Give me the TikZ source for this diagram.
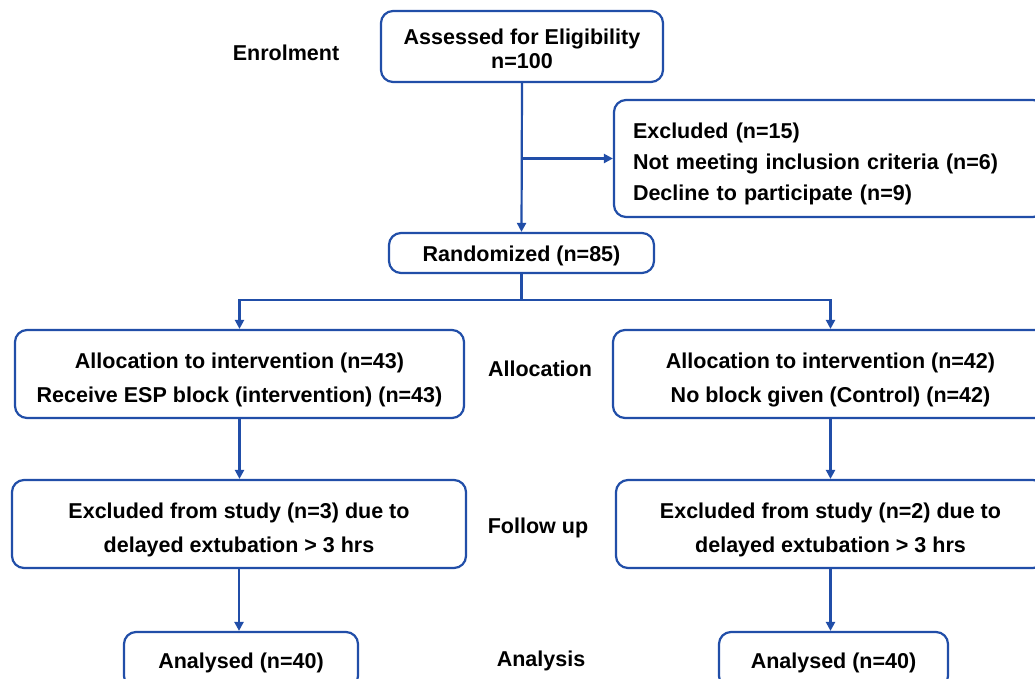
\documentclass[tikz,border=0pt]{standalone}
\usepackage{fontspec}
\setmainfont{Liberation Sans}
\usetikzlibrary{arrows.meta}
\definecolor{lineblue}{RGB}{33,78,168}
\newcommand{\upstrut}{\rule{0pt}{27pt}}
\newcommand{\lowstrut}{\rule{0pt}{21pt}}
\tikzset{
  box/.style={draw=lineblue, line width=2.2pt, rounded corners=12pt, inner sep=0pt,
    align=center, font=\bfseries\fontsize{21.5}{34}\selectfont},
  lbl/.style={inner sep=0pt, font=\bfseries\fontsize{21.5}{26}\selectfont},
  conn/.style={draw=lineblue, line width=2.2pt, -{Triangle[width=9pt,length=9pt]}},
  plain/.style={draw=lineblue, line width=2.2pt}
}
\begin{document}
\begin{tikzpicture}[x=1pt,y=-1pt]
\useasboundingbox (0,0) rectangle (1035,678);
\clip (0,0) rectangle (1035,678);
\fill[white] (0,0) rectangle (1035,678);

\node[box, minimum width=282pt, minimum height=71pt, font=\bfseries\fontsize{21.5}{24}\selectfont] (assess) at (522,46.5) {\lowstrut Assessed for Eligibility\\n=100};
\node[box, minimum width=431pt, minimum height=117pt, text width=393pt, inner xsep=19pt, align=left, font=\bfseries\fontsize{21.5}{31}\selectfont] (excl) at (829.5,158.5) {\upstrut Excluded (n=15)\\Not meeting inclusion criteria (n=6)\\Decline to participate (n=9)};
\node[box, minimum width=265pt, minimum height=40pt] (rand) at (521.5,253) {\lowstrut Randomized (n=85)};
\node[box, minimum width=449pt, minimum height=88pt] (alloc1) at (239.5,374) {\upstrut Allocation to intervention (n=43)\\Receive ESP block (intervention) (n=43)};
\node[box, minimum width=435pt, minimum height=88pt] (alloc2) at (830.5,374) {\upstrut Allocation to intervention (n=42)\\No block given (Control) (n=42)};
\node[box, minimum width=454pt, minimum height=88pt] (follow1) at (239,524) {\upstrut Excluded from study (n=3) due to\\delayed extubation > 3 hrs};
\node[box, minimum width=429pt, minimum height=88pt] (follow2) at (830.5,524) {\upstrut Excluded from study (n=2) due to\\delayed extubation > 3 hrs};
\node[box, minimum width=234pt, minimum height=56pt] (ana1) at (241,660) {\lowstrut Analysed (n=40)};
\node[box, minimum width=229pt, minimum height=56pt] (ana2) at (833.5,660) {\lowstrut Analysed (n=40)};

\node[lbl] (lenrol) at (286,53) {Enrolment};
\node[lbl] (lalloc) at (540,369) {Allocation};
\node[lbl] (lfollow) at (538,528) {Follow up};
\node[lbl] (lana) at (541,661) {Analysis};

\draw[conn] (assess.south) -- (rand.north);
\draw[conn] (assess.south |- excl.west) -- (excl.west);
\coordinate (split) at (521.5,300);
\draw[plain] (rand.south) -- (split);
\draw[conn] (split) -| (alloc1.north);
\draw[conn] (split) -| (alloc2.north);
\draw[conn] (alloc1.south) -- (alloc1.south |- follow1.north);
\draw[conn] (alloc2.south) -- (alloc2.south |- follow2.north);
\draw[conn] (follow1.south) -- (follow1.south |- ana1.north);
\draw[conn] (follow2.south) -- (follow2.south |- ana2.north);
\end{tikzpicture}
\end{document}
